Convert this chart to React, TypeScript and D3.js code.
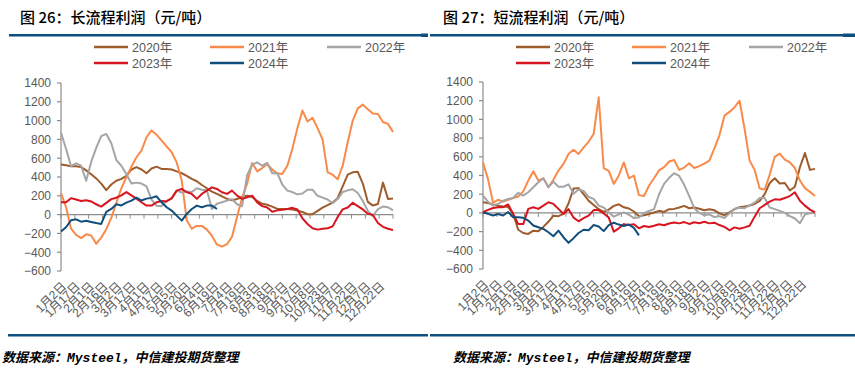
import React from 'react';
import * as d3 from 'd3';

const CATEGORIES = ['1月2日','1月17日','2月1日','2月16日','3月2日','3月17日','4月1日','4月17日','5月5日','5月20日','6月4日','6月19日','7月4日','7月19日','8月3日','8月18日','9月2日','9月17日','10月8日','10月23日','11月7日','11月22日','12月7日','12月22日'];
const YEARS = ['2020年','2021年','2022年','2023年','2024年'];
const COLORS = ['#9E5B2C','#F98A4A','#A5A5A5','#D8141F','#124E7C'];
const Y_TICKS = [-600,-400,-200,0,200,400,600,800,1000,1200,1400];
const TITLES = ['图 26：长流程利润（元/吨）','图 27：短流程利润（元/吨）'];
const SOURCE = '数据来源：Mysteel，中信建投期货整理';

// long-process profit, sampled every ~4 trading days
const LONG_2020 = [532,525,515,515,505,470,430,385,330,260,320,360,380,412,480,505,480,440,490,510,486,486,480,460,440,412,380,355,315,280,245,220,195,167,152,165,190,202,188,145,115,105,85,60,60,60,55,42,28,5,5,40,75,100,128,175,300,425,450,455,330,135,96,112,340,167,170];
const LONG_2021 = [230,80,-150,-215,-250,-210,-222,-310,-245,-155,-35,125,280,400,510,610,680,823,895,850,787,725,663,555,362,-60,-150,-120,-120,-160,-225,-320,-340,-315,-235,-25,180,330,550,460,495,535,480,440,433,520,700,920,1107,990,1030,920,800,450,425,375,520,770,1000,1130,1170,1120,1075,1071,985,965,880];
const LONG_2022 = [870,700,515,545,520,360,560,710,835,858,760,580,520,430,330,340,330,300,160,95,90,149,167,255,235,245,240,280,265,260,60,115,131,149,165,110,90,420,530,555,520,550,440,440,320,255,240,215,225,265,265,200,180,160,120,165,240,258,270,230,145,40,-15,58,85,78,45];
const LONG_2023 = [131,131,175,160,145,152,140,110,85,125,165,180,205,240,205,170,131,96,96,131,145,140,175,255,273,238,220,167,220,255,290,273,238,220,255,202,167,184,202,130,90,75,30,45,52,60,72,55,-40,-100,-145,-160,-150,-145,-125,-25,55,75,125,90,55,10,-5,-90,-130,-150,-163];
const LONG_2024 = [-180,-135,-60,-50,-75,-66,-78,-90,-99,30,60,110,97,128,148,180,150,170,178,195,131,78,43,-11,-64,7,60,96,78,96,96,60];

// short-process profit
const SHORT_2020 = [114,106,90,76,68,62,-11,-180,-215,-225,-190,-195,-150,-95,-30,-35,-10,100,260,265,200,130,85,40,10,35,75,92,60,47,15,-35,-25,-11,5,22,10,40,43,58,75,50,58,45,28,40,28,-5,-25,5,40,60,68,78,95,128,200,320,370,315,320,240,280,488,640,460,471];
const SHORT_2021 = [540,360,110,140,120,140,158,175,230,346,445,346,370,274,355,453,524,630,675,630,700,760,845,1237,480,450,310,400,540,370,400,190,180,290,370,455,490,550,565,460,485,530,480,500,528,560,690,830,1040,1080,1130,1200,900,560,460,260,250,410,600,635,570,540,480,346,265,225,180];
const SHORT_2022 = [185,118,80,95,130,148,160,215,185,221,274,328,370,274,335,280,280,305,205,250,235,170,150,78,58,5,-40,-15,5,-20,-55,-48,-2,20,40,200,310,375,425,395,300,180,50,0,-25,-15,-45,-35,-55,-5,45,55,50,80,110,160,160,58,40,22,0,-35,-60,-110,-18,-5,0];
const SHORT_2023 = [7,32,52,61,61,90,-11,-118,-120,43,61,43,78,114,96,43,-11,40,-50,-90,-55,-30,30,30,-5,-50,-200,-165,-120,-130,-122,-165,-140,-150,-137,-122,-132,-113,-102,-112,-98,-118,-100,-110,-95,-112,-105,-130,-150,-186,-155,-170,-155,-137,-40,50,85,120,145,140,160,180,221,130,78,35,5];
const SHORT_2024 = [5,-10,-28,-12,-28,10,-46,-46,-53,-82,-135,-153,-171,-207,-250,-190,-260,-320,-270,-215,-180,-185,-130,-145,-195,-130,-105,-125,-140,-125,-160,-240];

const LONG_SERIES = [LONG_2020, LONG_2021, LONG_2022, LONG_2023, LONG_2024];
const SHORT_SERIES = [SHORT_2020, SHORT_2021, SHORT_2022, SHORT_2023, SHORT_2024];

const N_STEPS = 66; // sample intervals across the year

const AXIS_COLOR = '#8C8C8C';
const TEXT_COLOR = '#595959';
const BLUE = '#0D4F7E';
const FONT = "'Liberation Sans', Arial, 'Noto Sans CJK SC', sans-serif";
const CJK = "'Noto Sans CJK SC', 'Liberation Sans', sans-serif";

function Panel({ ox, title, titleX, footerX, series, yRange }) {
  const x0 = 61 + ox;
  const x1 = 393 + ox;
  const xs = d3.scaleLinear().domain([0, N_STEPS]).range([x0, x1]);
  const xc = d3.scaleLinear().domain([0, CATEGORIES.length]).range([x0, x1]);
  const y = d3.scaleLinear().domain([-600, 1400]).range(yRange);
  const line = d3.line<number>().x((_, i) => xs(i)).y(d => y(d));
  const y0 = y(0);
  const legendCols = [94 + ox, 210 + ox, 327 + ox];
  const legendRows = [47, 63];

  return (
    <g>
      <text x={titleX} y={23} fontFamily={CJK} fontSize={15} fontWeight={500} fill="#000">{title}</text>
      <rect x={ox === 0 ? 9 : 430} y={34} width={ox === 0 ? 414 : 415} height={2.5} fill={BLUE} />
      <rect x={ox === 0 ? 421 : 843} y={33.5} width={ox === 0 ? 7 : 12} height={3.5} fill={BLUE} />

      {YEARS.map((yr, i) => {
        const cx = legendCols[i % 3];
        const cy = legendRows[Math.floor(i / 3)];
        return (
          <g key={yr}>
            <line x1={cx} x2={cx + 34} y1={cy} y2={cy} stroke={COLORS[i]} strokeWidth={2.5} />
            <text x={cx + 38} y={cy} dy="0.36em" fontFamily={FONT} fontSize={12.5} fill={TEXT_COLOR}>{yr}</text>
          </g>
        );
      })}

      {/* y axis */}
      <line x1={x0} x2={x0} y1={y(1400)} y2={y(-600)} stroke={AXIS_COLOR} strokeWidth={1.2} />
      {Y_TICKS.map(t => (
        <g key={t}>
          <line x1={x0 - 4} x2={x0} y1={y(t)} y2={y(t)} stroke={AXIS_COLOR} strokeWidth={1.2} />
          <text x={x0 - 10} y={y(t)} dy="0.36em" textAnchor="end" fontFamily={FONT} fontSize={12} fill={TEXT_COLOR}>
            {t < 0 ? '\u2212' + Math.abs(t) : String(t)}
          </text>
        </g>
      ))}

      {/* x axis at zero */}
      <line x1={x0} x2={x1} y1={y0} y2={y0} stroke={AXIS_COLOR} strokeWidth={1.2} />
      {d3.range(CATEGORIES.length + 1).map(k => (
        <line key={k} x1={xc(k)} x2={xc(k)} y1={y0} y2={y0 + 4} stroke={AXIS_COLOR} strokeWidth={1} />
      ))}
      {CATEGORIES.map((c, k) => (
        <text key={c} transform={`translate(${xc(k) + 3},${y(-600) + 13}) rotate(-45)`} textAnchor="end"
          fontFamily={FONT} fontSize={12} fill={TEXT_COLOR} dy="0.35em">{c}</text>
      ))}

      {series.map((s, i) => (
        <path key={i} d={line(s) || ''} fill="none" stroke={COLORS[i]} strokeWidth={2} strokeLinejoin="round" />
      ))}

      <rect x={ox === 0 ? 8 : 430} y={334} width={ox === 0 ? 420 : 425} height={2.5} fill={BLUE} />
      <text x={footerX} y={362} fontFamily="'Liberation Mono', 'Noto Sans CJK SC', monospace" fontStyle="italic" fontWeight={600} fontSize={13} fill="#000">{SOURCE}</text>
    </g>
  );
}

export default function App() {
  return (
    <svg width={855} height={371} style={{ position: 'absolute', left: 0, top: 0, background: '#fff' }}>
      <rect width={855} height={371} fill="#fff" />
      <Panel ox={0} title={TITLES[0]} titleX={20} footerX={2} series={LONG_SERIES} yRange={[271, 83]} />
      <Panel ox={422} title={TITLES[1]} titleX={443} footerX={453} series={SHORT_SERIES} yRange={[269, 82]} />
    </svg>
  );
}
